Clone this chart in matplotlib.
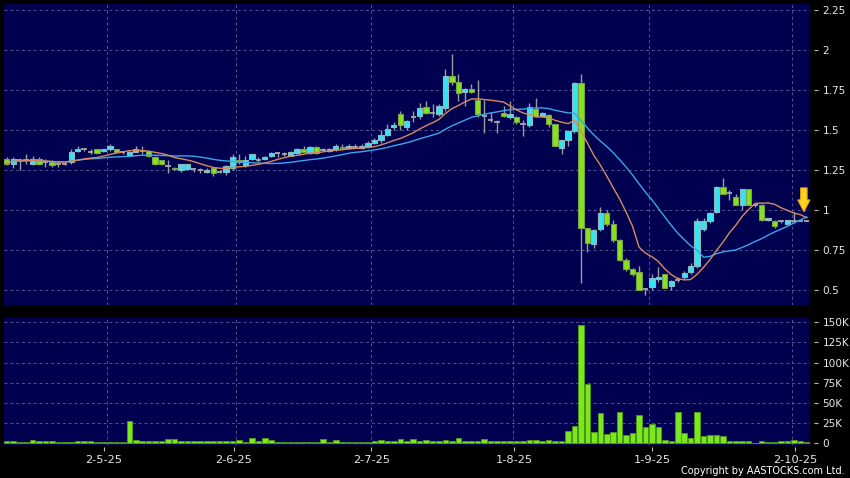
import numpy as np
import matplotlib
matplotlib.use("Agg")
import matplotlib.pyplot as plt
from matplotlib.patches import Polygon
import pandas as pd

# ---------------- data ----------------
opens = [1.32, 1.29, 1.31, 1.31, 1.29, 1.32, 1.30, 1.30, 1.285, 1.285,
         1.30, 1.37, 1.38, 1.365, 1.38, 1.37, 1.38, 1.38, 1.36, 1.34,
         1.36, 1.37, 1.37, 1.33, 1.31, 1.275, 1.265, 1.25, 1.255, 1.255,
         1.25, 1.235, 1.265, 1.24, 1.24, 1.26, 1.31, 1.28, 1.32, 1.315,
         1.317, 1.337, 1.354, 1.35, 1.34, 1.358, 1.383, 1.358, 1.396, 1.375,
         1.369, 1.379, 1.396, 1.385, 1.396, 1.385, 1.40, 1.417, 1.437, 1.469,
         1.517, 1.598, 1.519, 1.583, 1.5875, 1.646, 1.604, 1.60, 1.635, 1.8375,
         1.80, 1.74, 1.754, 1.69, 1.59, 1.5625, 1.55, 1.604, 1.583, 1.583,
         1.54, 1.531, 1.63, 1.5875, 1.594, 1.5375, 1.385, 1.4375, 1.496, 1.796,
         0.885, 0.79, 0.879, 0.983, 0.9125, 0.8125, 0.6875, 0.629, 0.615, 0.504,
         0.517, 0.569, 0.598, 0.527, 0.56, 0.579, 0.61, 0.65, 0.879, 0.93,
         0.985, 1.146, 1.104, 1.079, 1.031, 1.129, 1.031, 1.031, 0.9375, 0.93,
         0.93, 0.9125, 0.933, 0.933, 0.933]
highs = [1.33, 1.33, 1.32, 1.35, 1.34, 1.33, 1.32, 1.31, 1.30, 1.29,
         1.38, 1.40, 1.39, 1.38, 1.38, 1.38, 1.41, 1.38, 1.37, 1.37,
         1.40, 1.40, 1.37, 1.34, 1.31, 1.31, 1.27, 1.29, 1.29, 1.26,
         1.26, 1.26, 1.27, 1.25, 1.28, 1.35, 1.35, 1.34, 1.35, 1.33,
         1.34, 1.36, 1.36, 1.36, 1.37, 1.39, 1.40, 1.40, 1.40, 1.39,
         1.39, 1.41, 1.41, 1.41, 1.41, 1.41, 1.43, 1.45, 1.50, 1.54,
         1.55, 1.62, 1.56, 1.62, 1.67, 1.68, 1.66, 1.66, 1.88, 1.975,
         1.85, 1.76, 1.79, 1.81, 1.69, 1.61, 1.56, 1.65, 1.68, 1.59,
         1.56, 1.67, 1.70, 1.61, 1.60, 1.54, 1.44, 1.50, 1.80, 1.85,
         0.89, 0.88, 1.02, 1.00, 0.94, 0.82, 0.70, 0.64, 0.65, 0.51,
         0.60, 0.646, 0.60, 0.56, 0.58, 0.62, 0.67, 0.95, 0.95, 0.99,
         1.15, 1.198, 1.125, 1.10, 1.13, 1.13, 1.04, 1.04, 0.95, 0.935,
         0.94, 0.94, 0.99, 0.94, 0.935]
lows = [1.28, 1.26, 1.25, 1.29, 1.28, 1.28, 1.27, 1.27, 1.27, 1.28,
        1.29, 1.36, 1.37, 1.35, 1.35, 1.36, 1.37, 1.36, 1.35, 1.34,
        1.36, 1.35, 1.33, 1.28, 1.28, 1.23, 1.25, 1.24, 1.25, 1.24,
        1.23, 1.23, 1.21, 1.23, 1.22, 1.25, 1.29, 1.27, 1.31, 1.30,
        1.31, 1.33, 1.33, 1.34, 1.34, 1.35, 1.36, 1.35, 1.35, 1.37,
        1.36, 1.37, 1.38, 1.38, 1.39, 1.38, 1.39, 1.41, 1.42, 1.46,
        1.50, 1.50, 1.50, 1.55, 1.57, 1.60, 1.58, 1.59, 1.62, 1.78,
        1.68, 1.65, 1.73, 1.58, 1.48, 1.55, 1.48, 1.58, 1.57, 1.54,
        1.46, 1.52, 1.58, 1.58, 1.52, 1.40, 1.35, 1.40, 1.48, 0.546,
        0.74, 0.76, 0.87, 0.90, 0.80, 0.68, 0.62, 0.59, 0.50, 0.47,
        0.50, 0.55, 0.51, 0.50, 0.55, 0.57, 0.60, 0.64, 0.87, 0.92,
        0.98, 1.10, 1.06, 1.03, 1.00, 1.03, 1.02, 0.93, 0.93, 0.89,
        0.92, 0.91, 0.92, 0.93, 0.93]
closes = [1.29, 1.32, 1.31, 1.31, 1.32, 1.29, 1.30, 1.28, 1.285, 1.285,
          1.36, 1.38, 1.38, 1.365, 1.355, 1.38, 1.40, 1.365, 1.36, 1.36,
          1.38, 1.37, 1.34, 1.29, 1.285, 1.275, 1.255, 1.285, 1.285, 1.255,
          1.25, 1.25, 1.23, 1.24, 1.275, 1.33, 1.30, 1.31, 1.35, 1.315,
          1.333, 1.354, 1.354, 1.35, 1.365, 1.383, 1.365, 1.396, 1.358, 1.375,
          1.383, 1.402, 1.385, 1.402, 1.396, 1.40, 1.417, 1.437, 1.469, 1.504,
          1.531, 1.531, 1.554, 1.583, 1.635, 1.604, 1.604, 1.65, 1.8375, 1.80,
          1.73, 1.754, 1.735, 1.60, 1.59, 1.5625, 1.55, 1.5875, 1.60, 1.55,
          1.54, 1.646, 1.5875, 1.604, 1.5375, 1.40, 1.4375, 1.496, 1.796, 0.885,
          0.796, 0.875, 0.983, 0.9125, 0.8125, 0.6875, 0.629, 0.60, 0.50, 0.504,
          0.573, 0.583, 0.515, 0.558, 0.56, 0.608, 0.65, 0.93, 0.93, 0.983,
          1.146, 1.10, 1.104, 1.031, 1.129, 1.031, 1.031, 0.9375, 0.948, 0.90,
          0.93, 0.9375, 0.933, 0.933, 0.933]
volumes_k = [3.2, 3.2, 1.6, 1.6, 4.0, 2.4, 2.4, 3.2, 1.6, 1.6,
             1.6, 2.4, 2.4, 3.2, 1.6, 1.6, 1.6, 1.6, 1.6, 27.5,
             4.0, 2.4, 2.4, 3.2, 2.4, 5.0, 5.4, 3.0, 2.4, 2.4,
             2.4, 2.4, 2.4, 2.4, 2.4, 2.4, 4.0, 2.0, 6.6, 2.4,
             6.6, 4.5, 2.0, 2.0, 2.0, 2.0, 2.0, 2.0, 2.0, 5.0,
             2.0, 3.5, 2.0, 2.0, 2.0, 2.0, 2.0, 2.4, 4.0, 2.4,
             2.4, 5.0, 2.4, 5.0, 2.4, 4.0, 2.9, 3.2, 4.0, 3.2,
             6.6, 3.2, 3.2, 2.4, 5.0, 3.2, 2.9, 2.9, 2.9, 2.9,
             3.2, 3.5, 4.0, 2.9, 3.5, 3.2, 3.2, 15.3, 21.8, 146.6,
             73.5, 13.6, 37.5, 12.0, 14.0, 38.8, 10.0, 12.4, 35.0, 20.0,
             24.0, 20.6, 4.0, 3.2, 38.8, 13.0, 6.6, 38.8, 9.0, 10.0,
             10.6, 9.0, 2.9, 2.9, 2.9, 3.2, 0.8, 3.2, 1.2, 1.2,
             2.4, 2.9, 3.5, 2.4, 1.6]

date_tick_pos = [15.1, 35.2, 56.5, 78.65, 100.05, 122.2]
date_tick_labels = ["2-5-25", "2-6-25", "2-7-25", "1-8-25", "1-9-25", "2-10-25"]
date_grid_pos = [15.6, 35.6, 56.5, 78.5, 99.6, 121.7]
price_ticks = [0.5, 0.75, 1.0, 1.25, 1.5, 1.75, 2.0, 2.25]
price_tick_labels = ["0.5", "0.75", "1", "1.25", "1.5", "1.75", "2", "2.25"]
vol_ticks = [0, 25, 50, 75, 100, 125, 150]
vol_tick_labels = ["0", "25K", "50K", "75K", "100K", "125K", "150K"]

# ---------------- styling ----------------
BG = "#000050"
GRID = "#54548e"
TXT = "#e6e6e6"
CYAN = "#33e4f4"
CYAN_EDGE = "#8fb8bf"
GREEN = "#86e21e"
GREEN_EDGE = "#7aa04a"
WICK = "#9c9c9c"
VOL = "#7ae81c"
VOL_EDGE = "#4f9a14"

o = np.array(opens); h = np.array(highs); l = np.array(lows); c = np.array(closes)
v = np.array(volumes_k)
x = np.arange(len(c))

fig = plt.figure(figsize=(8.5, 4.78), dpi=100, facecolor="black")
W, H = 850.0, 478.0
ax = fig.add_axes([4 / W, 1 - 305 / H, 806 / W, 301 / H])
axv = fig.add_axes([4 / W, 1 - 444.5 / H, 806 / W, 126.5 / H])

gridkw = dict(color=GRID, linestyle=(0, (3, 3)), linewidth=0.7, zorder=0.5)
for a in (ax, axv):
    a.set_facecolor(BG)
    a.set_xlim(-0.42, 124.5)
    for s in a.spines.values():
        s.set_visible(False)
    a.yaxis.tick_right()
    a.spines["right"].set_position(("outward", 3))
    a.spines["bottom"].set_position(("outward", 2))
    a.tick_params(axis="y", colors="#bdbdbd", labelcolor=TXT, length=3,
                  width=0.8, pad=3, labelsize=7.6, direction="out")
    a.set_xticks(date_tick_pos)
    a.yaxis.grid(True, **gridkw)
    for gx in date_grid_pos:
        a.axvline(gx, **gridkw)
    a.set_axisbelow(True)

# price panel
ax.set_ylim(0.406, 2.2875)
ax.set_yticks(price_ticks)
ax.set_yticklabels(price_tick_labels)
ax.tick_params(axis="x", length=0, labelbottom=False)

ma10 = pd.Series(c).rolling(10, min_periods=1).mean()
ma20 = pd.Series(c).rolling(20, min_periods=1).mean()

ax.vlines(x, l, h, color=WICK, linewidth=1.0, zorder=2)
up = c > o
dn = c < o
eq = c == o
bw = 0.82
ax.bar(x[up], (c - o)[up], bottom=o[up], width=bw, color=CYAN,
       edgecolor=CYAN_EDGE, linewidth=0.8, zorder=3)
ax.bar(x[dn], (o - c)[dn], bottom=c[dn], width=bw, color=GREEN,
       edgecolor=GREEN_EDGE, linewidth=0.8, zorder=3)
ax.hlines(c[eq], x[eq] - bw / 2, x[eq] + bw / 2, color="#a8a8a8",
          linewidth=1.3, zorder=3)
ax.plot(x, ma20, color="#3aa6ea", linewidth=1.0, zorder=4)
ax.plot(x, ma10, color="#d98a5c", linewidth=1.0, zorder=4)

# yellow marker arrow above the last close
xl = x[-1] - 0.45
yc = c[-1]
arrow = Polygon([[xl - 0.5, yc + 0.205], [xl + 0.5, yc + 0.205],
                 [xl + 0.5, yc + 0.13], [xl + 0.95, yc + 0.13],
                 [xl, yc + 0.056], [xl - 0.95, yc + 0.13],
                 [xl - 0.5, yc + 0.13]],
                closed=True, facecolor="#ffd21c", edgecolor="#e8a010",
                linewidth=0.8, zorder=6, clip_on=False)
ax.add_patch(arrow)

# volume panel
axv.set_ylim(-1.5, 155.3)
axv.set_yticks(vol_ticks)
axv.set_yticklabels(vol_tick_labels)
axv.bar(x, v, width=0.86, color=VOL, edgecolor=VOL_EDGE, linewidth=0.6, zorder=3)
axv.set_xticklabels(date_tick_labels)
axv.tick_params(axis="x", colors="#bdbdbd", labelcolor=TXT, length=3,
                width=0.8, pad=2.5, labelsize=8.2)

fig.text(845 / W, 1 - 471.5 / H, "Copyright by AASTOCKS.com Ltd.",
         ha="right", va="center", color="white", fontsize=7.0)

fig.savefig("out.png", dpi=100, facecolor="black")
